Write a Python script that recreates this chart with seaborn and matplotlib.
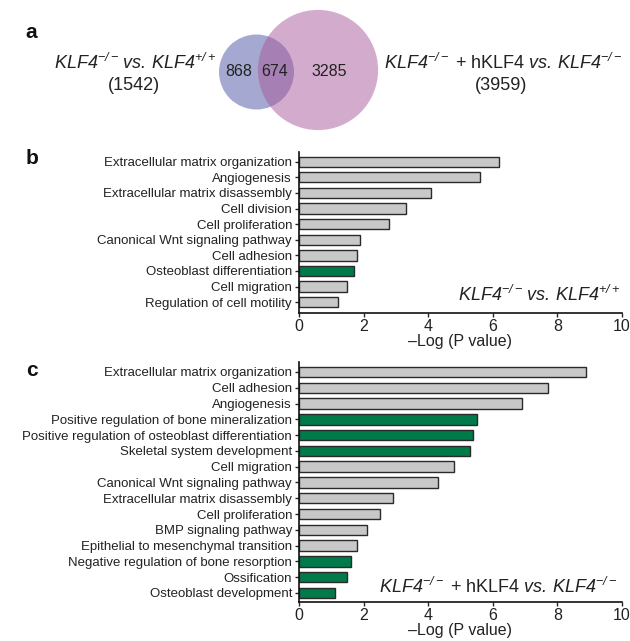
import numpy as np
import pandas as pd
import matplotlib
matplotlib.use("Agg")
import matplotlib.pyplot as plt
from matplotlib.patches import Circle
import seaborn as sns

# panel a: venn counts
only_ko = 868
shared = 674
only_rescue = 3285
total_ko = only_ko + shared          # 1542
total_rescue = shared + only_rescue  # 3959

# panel b: KLF4-/- vs KLF4+/+
terms_b = [
    "Extracellular matrix organization",
    "Angiogenesis",
    "Extracellular matrix disassembly",
    "Cell division",
    "Cell proliferation",
    "Canonical Wnt signaling pathway",
    "Cell adhesion",
    "Osteoblast differentiation",
    "Cell migration",
    "Regulation of cell motility",
]
logp_b = [6.2, 5.6, 4.1, 3.3, 2.8, 1.9, 1.8, 1.7, 1.5, 1.2]
bone_b = [False, False, False, False, False, False, False, True, False, False]

# panel c: KLF4-/- + hKLF4 vs KLF4-/-
terms_c = [
    "Extracellular matrix organization",
    "Cell adhesion",
    "Angiogenesis",
    "Positive regulation of bone mineralization",
    "Positive regulation of osteoblast differentiation",
    "Skeletal system development",
    "Cell migration",
    "Canonical Wnt signaling pathway",
    "Extracellular matrix disassembly",
    "Cell proliferation",
    "BMP signaling pathway",
    "Epithelial to mesenchymal transition",
    "Negative regulation of bone resorption",
    "Ossification",
    "Osteoblast development",
]
logp_c = [8.9, 7.7, 6.9, 5.5, 5.4, 5.3, 4.8, 4.3, 2.9, 2.5, 2.1, 1.8, 1.6, 1.5, 1.1]
bone_c = [False, False, False, True, True, True, False, False, False, False,
          False, False, True, True, True]

x_ticks = [0, 2, 4, 6, 8, 10]

GREEN = "#007a48"
GREY = "#c8c8c8"
EDGE = "#2a2a2a"
TXT = "#222222"

sns.set_style("ticks")
plt.rcParams["font.family"] = ["Liberation Sans", "DejaVu Sans"]
plt.rcParams["mathtext.fontset"] = "custom"
plt.rcParams["mathtext.rm"] = "Liberation Sans"
plt.rcParams["mathtext.it"] = "Liberation Sans:italic"
# sf slot holds the italic face so digits (KLF4) stay slanted too
plt.rcParams["mathtext.sf"] = "Liberation Sans:italic"
plt.rcParams["mathtext.bf"] = "Liberation Sans:bold"

W, H = 630, 641
fig = plt.figure(figsize=(W / 100, H / 100), dpi=100)

# overlay axes in pixel coordinates for venn + panel letters
bg = fig.add_axes([0, 0, 1, 1])
bg.set_xlim(0, W)
bg.set_ylim(H, 0)
bg.axis("off")

r_ko = 37.5
r_rescue = r_ko * np.sqrt(total_rescue / total_ko)
bg.add_patch(Circle((256.5, 72), r_ko, facecolor="#7a80bd", alpha=0.68,
                    edgecolor="none"))
bg.add_patch(Circle((318, 70), r_rescue, facecolor="#a8589a", alpha=0.5,
                    edgecolor="none"))
bg.text(239, 72, f"{only_ko}", fontsize=11.5, ha="center", va="center", color=TXT)
bg.text(275, 72, f"{shared}", fontsize=11.5, ha="center", va="center", color=TXT)
bg.text(329, 72, f"{only_rescue}", fontsize=11.5, ha="center", va="center", color=TXT)

lab_ko = r"$\mathsf{KLF4}^{\mathsf{-/-}}\,\mathsf{vs.}\,\mathsf{KLF4}^{\mathsf{+/+}}$"
lab_rescue = r"$\mathsf{KLF4}^{\mathsf{-/-}}$ + hKLF4 $\mathsf{vs.}\,\mathsf{KLF4}^{\mathsf{-/-}}$"
bg.text(135, 63, lab_ko, fontsize=13, ha="center", va="center", color=TXT)
bg.text(134, 86, f"({total_ko})", fontsize=13, ha="center", va="center", color=TXT)
bg.text(503, 63, lab_rescue, fontsize=13, ha="center", va="center", color=TXT)
bg.text(501, 86, f"({total_rescue})", fontsize=13, ha="center", va="center", color=TXT)

for letter, (lx, ly) in {"a": (31, 33), "b": (32, 159), "c": (32, 370)}.items():
    bg.text(lx, ly, letter, fontsize=15, fontweight="bold", ha="center",
            va="center", color="#111111")


def enrich_panel(rect, terms, vals, bone, label, lab_xy, ylim):
    ax = fig.add_axes(rect)
    df = pd.DataFrame({"term": terms, "logp": vals,
                       "group": ["bone" if b else "other" for b in bone]})
    sns.barplot(data=df, x="logp", y="term", hue="group", order=terms,
                palette={"bone": GREEN, "other": GREY}, dodge=False,
                saturation=1, width=0.66, edgecolor=EDGE, linewidth=1.0,
                legend=False, orient="h", ax=ax)
    ax.set_xlim(0, 10)
    ax.set_ylim(*ylim)
    ax.set_xticks(x_ticks)
    ax.set_xticklabels([str(t) for t in x_ticks], fontsize=11.5, color=TXT)
    ax.tick_params(axis="y", labelsize=9.5, length=3, width=1, pad=2,
                   labelcolor=TXT)
    ax.tick_params(axis="x", length=3, width=1, pad=1)
    ax.set_ylabel("")
    ax.set_xlabel("\u2013Log (P value)", fontsize=11.5, color=TXT, labelpad=0)
    sns.despine(ax=ax)
    for s in ("left", "bottom"):
        ax.spines[s].set_linewidth(1.2)
        ax.spines[s].set_color("#111111")
    ax.text(lab_xy[0], lab_xy[1], label, transform=ax.transAxes, fontsize=13,
            ha="right", va="center", color=TXT)
    return ax


x0, x1 = 299 / W, 622 / W
enrich_panel([x0, 1 - 313 / H, x1 - x0, (313 - 152) / H], terms_b, logp_b,
             bone_b, lab_ko, (0.995, 0.11), (9.69, -0.62))
enrich_panel([x0, 1 - 602 / H, x1 - x0, (602 - 362) / H], terms_c, logp_c,
             bone_c, lab_rescue, (0.985, 0.063), (14.57, -0.63))

fig.savefig("out.png", dpi=100)
plt.close(fig)
